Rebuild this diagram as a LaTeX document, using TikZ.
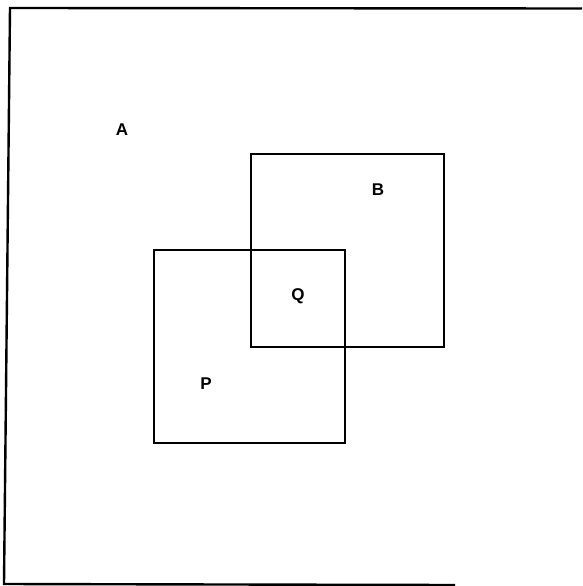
\documentclass[tikz,border=0pt]{standalone}
\usepackage{fontspec}
\setmainfont{Liberation Sans}
\begin{document}
\begin{tikzpicture}[x=1pt,y=-1pt,
  sq/.style={draw=black,line width=2.4pt,inner sep=0pt,anchor=north west},
  lbl/.style={font=\fontsize{17}{19}\selectfont\bfseries,inner sep=0pt}]
\useasboundingbox (0,0) rectangle (582,586);
\coordinate (tl) at (10,8);
\coordinate (tr) at (582,8.5);
\coordinate (bl) at (4,584);
\coordinate (br) at (455,585);
\draw[line width=2.4pt] (tr) -- (tl) -- (bl) -- (br);
\node[sq,minimum width=193pt,minimum height=193pt] (B) at (250,153) {};
\node[sq,minimum width=191pt,minimum height=193pt] (P) at (153,249) {};
\node[lbl] (la) at (122,130) {A};
\node[lbl] (lb) at (378,190) {B};
\node[lbl] (lq) at (298,296) {Q};
\node[lbl] (lp) at (206,384) {P};
\end{tikzpicture}
\end{document}
